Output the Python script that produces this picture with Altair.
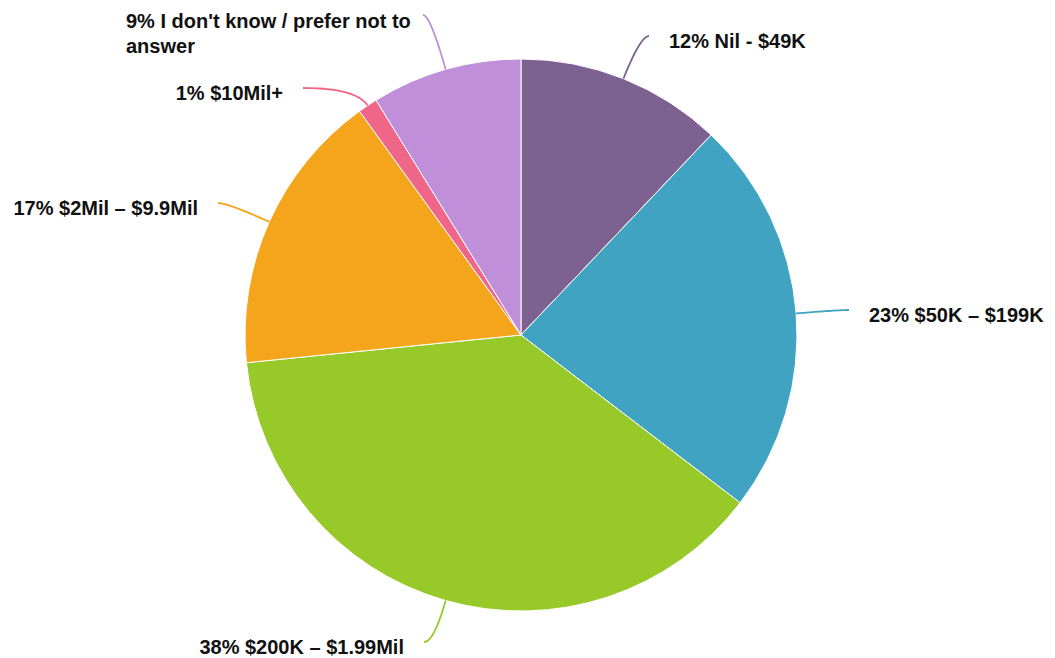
import math
import altair as alt
import pandas as pd

# ---- data ----
categories = ["Nil - $49K", "$50K – $199K", "$200K – $1.99Mil", "$2Mil – $9.9Mil",
              "$10Mil+", "I don't know / prefer not to answer"]
pct_labels = ["12%", "23%", "38%", "17%", "1%", "9%"]
shares = [12.1, 23.3, 38.0, 16.65, 1.15, 8.8]
colors = ["#7d6191", "#40a3c2", "#97c928", "#f5a51b", "#ef6688", "#bf8fd9"]

# ---- layout (page pixel coordinates) ----
W, H = 1039, 650
CX, CY, R = 521, 335, 276
# end point of each leader line (page coords)
leader_end = [(649, 36), (849, 310), (424, 642), (218, 203), (303, 88), (423, 15)]
label_side = ["right", "right", "left", "left", "left", "block"]
block_x = 126
GAP, DY = 20, 12
FONT = "Liberation Sans"
FS = 20

# ---- tables ----
pie = pd.DataFrame({"cat": categories, "share": shares, "idx": list(range(len(categories)))})

rows = []
labels_r, labels_l, labels_b = [], [], []
cum = 0.0
for i, (cat, s) in enumerate(zip(categories, shares)):
    mid = (cum + s / 2) / 100 * 2 * math.pi
    cum += s
    dx, dy = math.sin(mid), -math.cos(mid)
    p0 = (CX + R * dx, CY + R * dy)
    ex, ey = leader_end[i]
    t = (ey - p0[1]) / dy if abs(dy) > 1e-6 else 30
    p1 = (p0[0] + t * dx, ey)
    n = 24
    for k in range(n + 1):
        u = k / n
        x = (1 - u) ** 2 * p0[0] + 2 * (1 - u) * u * p1[0] + u ** 2 * ex
        y = (1 - u) ** 2 * p0[1] + 2 * (1 - u) * u * p1[1] + u ** 2 * ey
        rows.append({"cat": cat, "k": k, "x": x, "y": y})
    text = f"{pct_labels[i]} {cat}"
    if label_side[i] == "right":
        labels_r.append({"cat": cat, "x": ex + GAP, "y": ey + DY, "text": text})
    elif label_side[i] == "left":
        labels_l.append({"cat": cat, "x": ex - GAP, "y": ey + DY, "text": text})
    else:
        labels_b.append({"cat": cat, "x": block_x, "y": ey + 13,
                         "text": f"{pct_labels[i]} I don't know / prefer not to\nanswer"})

lines = pd.DataFrame(rows)

xs = alt.Scale(domain=[8, 8 + W], range=[0, W], zero=False, nice=False)
ys = alt.Scale(domain=[8, 8 + H], range=[0, H], zero=False, nice=False)
cs = alt.Scale(domain=categories, range=colors)

arcs = alt.Chart(pie).mark_arc(radius=R, stroke="white", strokeWidth=1,
                               x=CX - 8, y=CY - 8).encode(
    theta=alt.Theta("share:Q", stack=True),
    order=alt.Order("idx:Q"),
    color=alt.Color("cat:N", scale=cs, legend=None),
)

leaders = alt.Chart(lines).mark_line(strokeWidth=1.8).encode(
    x=alt.X("x:Q", scale=xs, axis=None),
    y=alt.Y("y:Q", scale=ys, axis=None),
    detail="cat:N",
    order="k:Q",
    color=alt.Color("cat:N", scale=cs, legend=None),
)

def txt(df, align):
    return alt.Chart(pd.DataFrame(df)).mark_text(
        align=align, baseline="alphabetic", font=FONT, fontSize=FS,
        fontWeight="bold", color="#111111", lineBreak="\n", lineHeight=25,
    ).encode(
        x=alt.X("x:Q", scale=xs, axis=None),
        y=alt.Y("y:Q", scale=ys, axis=None),
        text="text:N",
    )

chart = alt.layer(arcs, leaders, txt(labels_r, "left"), txt(labels_l, "right"),
                  txt(labels_b, "left")).properties(
    width=W, height=H, padding=0, autosize=alt.AutoSizeParams(type="none"),
).configure_view(stroke=None)

chart.save("out.html", embed_options={"renderer": "svg", "actions": False})
